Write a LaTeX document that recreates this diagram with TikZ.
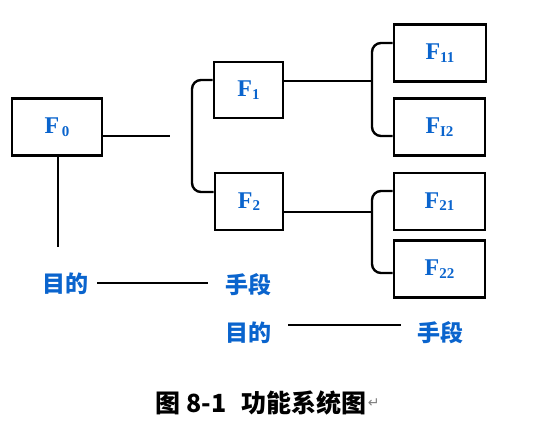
\documentclass[tikz,border=0pt]{standalone}
\usepackage{fontspec}
\setmainfont{Liberation Serif}
\newfontfamily\cjk{Noto Sans CJK SC}
\newfontfamily\symfont{DejaVu Sans}
\usetikzlibrary{positioning}
\definecolor{labelblue}{RGB}{10,100,205}
\newcommand{\fname}[1]{{\bfseries F\raisebox{-2.5pt}{\fontsize{15}{15}\selectfont #1}}}
\tikzset{
  fbox/.style={draw, line width=2.6pt, inner sep=0pt, minimum height=57pt,
    text=labelblue, font=\fontsize{24}{26}\selectfont},
  link/.style={line width=2.4pt},
  brace/.style={line width=2.4pt, rounded corners=9pt},
  goal/.style={inner sep=0pt, text=labelblue, font=\cjk\bfseries\fontsize{23}{26}\selectfont}
}
\begin{document}
\begin{tikzpicture}[x=1pt,y=-1pt]
  \useasboundingbox (0,0) rectangle (547,430);
  % boxes
  \node[fbox, minimum width=90pt] (f0) at (57,127) {\fname{\,0}};
  \node[fbox, minimum width=69pt, minimum height=56pt] (f1) at (248.5,90) {\fname{1}};
  \node[fbox, minimum width=68pt] (f2) at (249,201.5) {\fname{2}};
  \node[fbox, minimum width=92pt] (f11) at (440,53) {\fname{11}};
  \node[fbox, minimum width=91pt] (f12) at (439.5,127) {\fname{I2}};
  \node[fbox, minimum width=91pt] (f21) at (439.5,201.5) {\fname{21}};
  \node[fbox, minimum width=91pt] (f22) at (439.5,269) {\fname{22}};
  % free ends
  \coordinate (f0end) at (170,136);
  \coordinate (f0down) at (58,247);
  % F0
  \draw[link] (f0.east |- f0end) -- (f0end);
  \draw[link] (f0.south -| f0down) -- (f0down);
  % first level
  \draw[brace] ([yshift=10pt]f1.west) -| (192,136) |- ([yshift=9.5pt]f2.west);
  % second level
  \draw[link] ([yshift=9pt]f1.east) -- (372,81);
  \draw[brace] ([yshift=10pt]f11.west) -| (372,90) |- ([yshift=-9pt]f12.west);
  \draw[link] ([yshift=-10.5pt]f2.east) -- (372,212);
  \draw[brace] ([yshift=10.5pt]f21.west) -| (372,230) |- ([yshift=-4pt]f22.west);
  % goal -- means
  \node[goal] (goal1) at (65,284) {目的};
  \node[goal] (means1) at (248,285) {手段};
  \draw[link] (97,283) -- (208,283);
  \node[goal] (goal2) at (248,333) {目的};
  \node[goal] (means2) at (440,333) {手段};
  \draw[link] (288,325) -- (401,325);
  % caption
  \node[inner sep=0pt, font=\cjk\bfseries\fontsize{25}{28}\selectfont] (caption) at (261,403)
    {图 8-1\hspace{0.6em}功能系统图};
  \node[inner sep=0pt, right=1pt of caption, text=gray, font=\symfont\fontsize{14}{15}\selectfont] (mark) {↵};
\end{tikzpicture}
\end{document}
